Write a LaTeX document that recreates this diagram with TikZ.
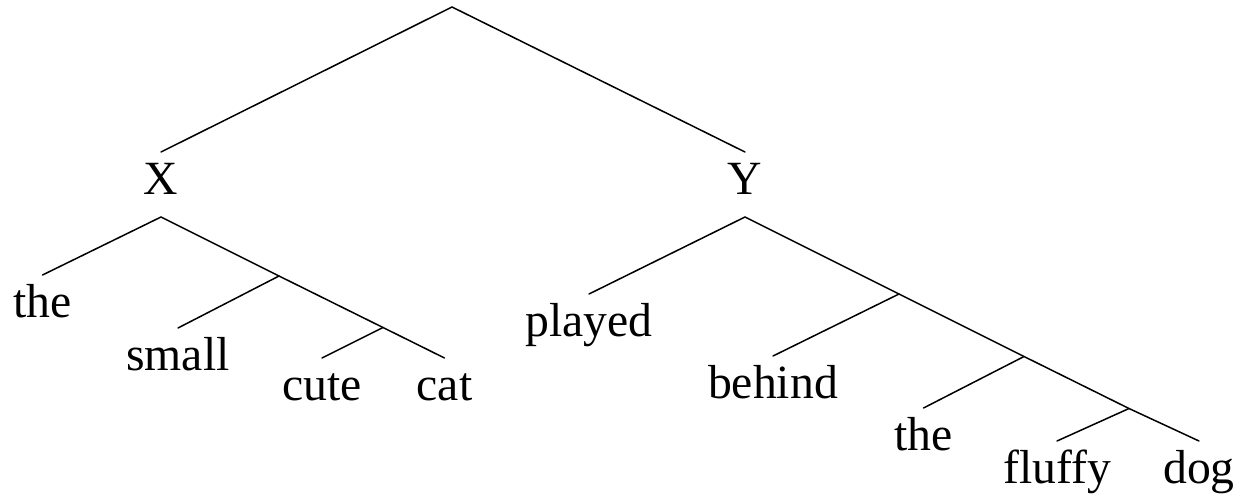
\documentclass[tikz,border=0pt]{standalone}
\usepackage{fontspec}
\setmainfont{Liberation Serif}
\begin{document}
\begin{tikzpicture}[x=1pt,y=-1pt,
  leaf/.style={anchor=base,inner sep=0pt,outer sep=0pt,text height=42pt,text depth=0pt,font=\fontsize{47.7}{57}\selectfont},
  cat/.style={anchor=base,inner sep=0pt,outer sep=0pt,text height=42pt,text depth=23pt,font=\fontsize{47.7}{57}\selectfont},
  edge/.style={line width=1.5pt,line cap=round,line join=miter}]
\useasboundingbox (0,0) rectangle (1241,498);
\coordinate (root) at (452,7);
\node[cat] (X) at (161,194) {X};
\node[cat] (Y) at (745,194) {Y};
\node[leaf] (the1) at (42.5,317) {the};
\node[leaf] (small) at (178,370) {small};
\node[leaf] (cute) at (322,400) {cute};
\node[leaf] (cat) at (444.5,400) {cat};
\node[leaf] (played) at (589,336) {played};
\node[leaf] (behind) at (773,398) {behind};
\node[leaf] (the2) at (923.5,450) {the};
\node[leaf] (fluffy) at (1057,483) {fluffy};
\node[leaf] (dog) at (1199,483) {dog};
\coordinate (bx1) at (279,276);
\coordinate (bx2) at (383,327.5);
\coordinate (by1) at (899,294);
\coordinate (by2) at (1024,356.5);
\coordinate (by3) at (1129,408.5);
\draw[edge] (X.north) -- (root) -- (Y.north);
\draw[edge] (the1.north) -- (X.south) -- (bx1) -- (bx2) -- (cat.north);
\draw[edge] (bx1) -- (small.north);
\draw[edge] (bx2) -- (cute.north);
\draw[edge] (played.north) -- (Y.south) -- (by1) -- (by2) -- (by3) -- (dog.north);
\draw[edge] (by1) -- (behind.north);
\draw[edge] (by2) -- (the2.north);
\draw[edge] (by3) -- (fluffy.north);
\end{tikzpicture}
\end{document}
